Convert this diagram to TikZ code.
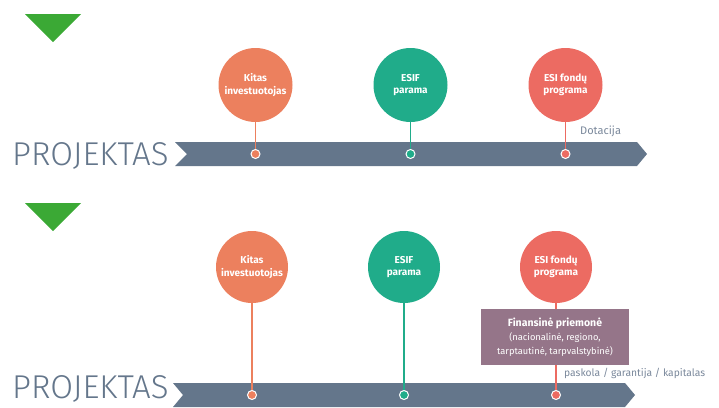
\documentclass[tikz,border=0pt]{standalone}
\usepackage{fontspec}
\setmainfont{Fira Sans}
\newfontfamily\lightfont{Fira Sans Light}
\usetikzlibrary{positioning}

\definecolor{barcol}{HTML}{64768B}
\definecolor{orangecol}{HTML}{EC805E}
\definecolor{tealcol}{HTML}{20AC8A}
\definecolor{redcol}{HTML}{EC6B62}
\definecolor{mauvecol}{HTML}{957589}
\definecolor{trigreen}{HTML}{3BA935}
\definecolor{labelcol}{HTML}{7A889B}

\begin{document}
\begin{tikzpicture}[x=1pt,y=-1pt,node distance=155pt,
	bubble/.style={circle,minimum size=74pt,inner sep=0pt,text=white,align=center,font=\fontsize{10}{12.5}\selectfont\bfseries},
	dot/.style={circle,minimum size=9pt,inner sep=0pt,draw=white,line width=1pt},
	stem/.style={line width=1.4pt},
	note/.style={text=labelcol,font=\fontsize{10.3}{12}\selectfont,inner sep=0pt,anchor=west},
	title/.style={text=barcol,font=\lightfont\fontsize{33}{33}\selectfont,inner sep=0pt,text depth=0pt,anchor=base west}]
	\useasboundingbox (0,0) rectangle (719,407);
	\clip (0,0) rectangle (719,407);

	% upper row
	\fill[trigreen] (25,14) -- (81,14) -- (53,42) -- cycle;
	\node[title] (p1) at (12,165) {PROJEKTAS};
	\fill[barcol] (175,142) -- (637,142) -- (647,154) -- (637,166) -- (175,166) -- (187,154) -- cycle;

	\node[bubble,fill=orangecol] (a1) at (255.5,85) {Kitas\\investuotojas};
	\node[bubble,fill=tealcol]   (a2) [right of=a1] {ESIF\\parama};
	\node[bubble,fill=redcol]    (a3) [right of=a2] {ESI fondų\\programa};

	\node[dot,fill=orangecol] (d1) at (255.5,154) {};
	\node[dot,fill=tealcol]   (d2) at (410.5,154) {};
	\node[dot,fill=redcol]    (d3) at (565.5,154) {};

	\draw[stem,orangecol] (a1) -- (d1);
	\draw[stem,tealcol]   (a2) -- (d2);
	\draw[stem,redcol]    (a3) -- (d3);

	\node[note,font=\fontsize{11}{12}\selectfont] (dot) at (580,131) {Dotacija};

	% lower row
	\fill[trigreen] (25,203) -- (81,203) -- (53,231) -- cycle;
	\node[title] (p2) at (12,398) {PROJEKTAS};
	\fill[barcol] (173,383) -- (625,383) -- (635,395) -- (625,407) -- (173,407) -- (183,395) -- cycle;

	\node[bubble,fill=orangecol,minimum size=72pt] (b1) at (252,267) {Kitas\\investuotojas};
	\node[bubble,fill=tealcol,minimum size=72pt]   (b2) [right of=b1,node distance=152pt] {ESIF\\parama};
	\node[bubble,fill=redcol,minimum size=72pt]    (b3) [right of=b2,node distance=152pt] {ESI fondų\\programa};

	\node[dot,fill=orangecol] (e1) at (252,395) {};
	\node[dot,fill=tealcol]   (e2) at (404,395) {};
	\node[dot,fill=redcol]    (e3) at (556,395) {};

	\draw[stem,orangecol] (b1) -- (e1);
	\draw[stem,tealcol]   (b2) -- (e2);
	\draw[stem,redcol]    (b3) -- (e3);

	\node[fill=mauvecol,text=white,minimum width=148pt,minimum height=56pt,align=center,
		font=\fontsize{9.3}{14}\selectfont] (fin) at (555,337)
		{{\fontsize{10.5}{14}\selectfont\bfseries Finansinė priemonė}\\(nacionalinė, regiono,\\tarptautinė, tarpvalstybinė)};

	\node[note] (pgk) at (564,373) {paskola / garantija / kapitalas};
\end{tikzpicture}
\end{document}
